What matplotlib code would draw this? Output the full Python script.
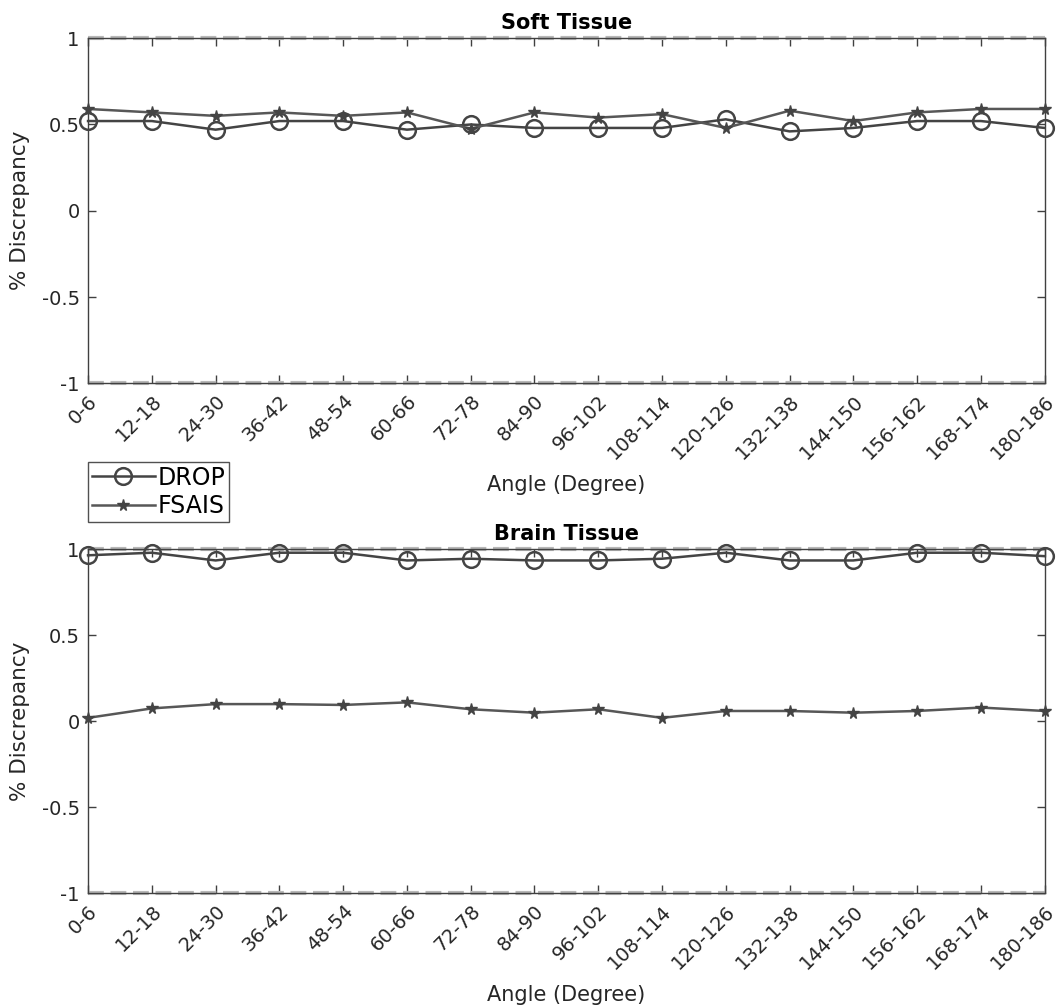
import matplotlib
matplotlib.use('Agg')
import matplotlib.pyplot as plt
import numpy as np

ANGULOS = ['0-6', '12-18', '24-30', '36-42', '48-54', '60-66', '72-78', '84-90',
           '96-102', '108-114', '120-126', '132-138', '144-150', '156-162',
           '168-174', '180-186']

SOFT_DROP = [0.52, 0.52, 0.47, 0.52, 0.52, 0.47, 0.50, 0.48,
             0.48, 0.48, 0.53, 0.46, 0.48, 0.52, 0.52, 0.48]
SOFT_FSAIS = [0.59, 0.57, 0.55, 0.57, 0.55, 0.57, 0.475, 0.57,
              0.54, 0.56, 0.48, 0.58, 0.52, 0.57, 0.59, 0.59]

BRAIN_DROP = [0.965, 0.98, 0.935, 0.98, 0.98, 0.935, 0.945, 0.935,
              0.935, 0.945, 0.98, 0.935, 0.935, 0.98, 0.98, 0.96]
BRAIN_FSAIS = [0.02, 0.075, 0.10, 0.10, 0.095, 0.11, 0.07, 0.05,
               0.07, 0.02, 0.06, 0.06, 0.05, 0.06, 0.08, 0.06]

_COR_EIXO = '#404040'
_COR_TEXTO = '#262626'
_COR_DROP = '#444444'
_COR_FSAIS = '#575757'


def _painel(ax, titulo, drop, fsais):
    x = np.arange(len(ANGULOS))
    for yref in (1, -1):
        ax.axhline(yref, color='#b8b8b8', linestyle=(0, (3.8, 1.6)),
                   linewidth=3.0, zorder=2, clip_on=False)
    ax.plot(x, drop, color=_COR_DROP, marker='o', markersize=12,
            markerfacecolor='none', markeredgewidth=1.8, linewidth=1.8,
            label='DROP', zorder=3, clip_on=False)
    ax.plot(x, fsais, color=_COR_FSAIS, marker='*', markersize=8.5,
            markeredgecolor='#444444', markerfacecolor='#444444',
            linewidth=1.8, label='FSAIS', zorder=3, clip_on=False)

    ax.set_xlim(0, len(ANGULOS) - 1)
    ax.set_ylim(-1, 1)
    ax.set_xticks(x)
    ax.set_xticklabels(ANGULOS, rotation=45, ha='right', rotation_mode='anchor',
                       fontsize=14, color=_COR_TEXTO)
    ax.set_yticks([-1, -0.5, 0, 0.5, 1])
    ax.set_yticklabels(['-1', '-0.5', '0', '0.5', '1'], fontsize=14, color=_COR_TEXTO)
    ax.tick_params(direction='in', length=6, width=1, color=_COR_EIXO,
                   top=True, right=True, pad=6)
    for s in ax.spines.values():
        s.set_color(_COR_EIXO)
        s.set_linewidth(1)
    ax.set_title(titulo, fontsize=15, fontweight='bold', pad=7)
    ax.set_xlabel('Angle (Degree)', fontsize=15, color=_COR_TEXTO)
    ax.set_ylabel('% Discrepancy', fontsize=15.5, color=_COR_TEXTO)
    ax.xaxis.set_label_coords(0.5, -0.265)
    ax.yaxis.set_label_coords(-0.0606, 0.5)


fig = plt.figure(figsize=(10.57, 10.06), dpi=100)
ax1 = fig.add_axes([0.0833, 0.619, 0.905, 0.343])
ax2 = fig.add_axes([0.0833, 0.112, 0.905, 0.342])

_painel(ax1, 'Soft Tissue', SOFT_DROP, SOFT_FSAIS)
_painel(ax2, 'Brain Tissue', BRAIN_DROP, BRAIN_FSAIS)

h, l = ax1.get_legend_handles_labels()
leg = fig.legend(h, l, loc='upper left', bbox_to_anchor=(0.0833, 1 - 462 / 1006),
                 fontsize=17, frameon=True, fancybox=False, handlelength=2.7,
                 borderpad=0.15, labelspacing=0.2, handletextpad=0.1,
                 borderaxespad=0)
leg.get_frame().set_edgecolor(_COR_TEXTO)
leg.get_frame().set_linewidth(1)

fig.savefig('out.png', dpi=100)
